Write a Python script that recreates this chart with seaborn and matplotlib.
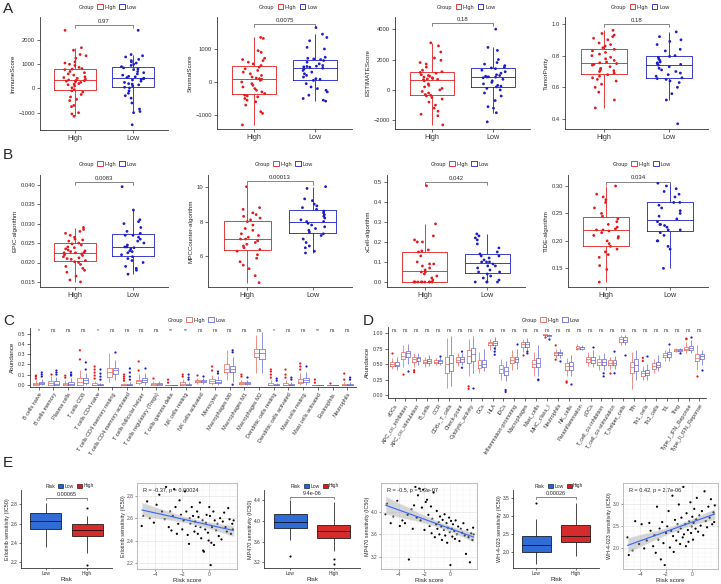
import numpy as np
import pandas as pd
import matplotlib
matplotlib.use("Agg")
import matplotlib.pyplot as plt
from matplotlib.patches import Patch
from matplotlib.collections import PolyCollection
import seaborn as sns

# === DATA ===
immune_high = [2400, 1680, 1580, 1400, 1350, 1250, 1100, 1050, 1000, 950, 870, 820, 800, 780, 700,
               650, 600, 550, 480, 450, 420, 380, 350, 330, 320, 300, 280, 250, 200, 180, 150, 100,
               30, -50, -100, -150, -250, -350, -450, -500, -700, -750, -1000, -1050, -1150]
immune_low = [2400, 1400, 1350, 1300, 1200, 1150, 1100, 1050, 1000, 950, 900, 850, 800, 780, 700,
              650, 600, 550, 500, 480, 450, 420, 400, 380, 350, 300, 250, 200, 180, 150, 100, 50,
              20, -100, -200, -300, -400, -600, -850, -950, -1000, -1500]
stromal_high = [1350, 1320, 950, 900, 720, 680, 650, 600, 550, 500, 450, 400, 350, 300, 250, 200,
                150, 120, 100, 80, 50, 0, -50, -100, -150, -200, -250, -300, -350, -400, -420,
                -450, -500, -550, -600, -700, -900, -950, -1300]
stromal_low = [1650, 1450, 1350, 1250, 1050, 1000, 750, 720, 700, 680, 650, 600, 550, 500, 480,
               470, 460, 450, 420, 400, 350, 300, 250, 200, 150, 100, 80, 50, -50, -150, -200,
               -250, -300, -400, -500, -550, -580]
estimate_high = [3100, 2900, 2500, 2100, 1950, 1800, 1700, 1500, 1300, 1200, 1150, 1100, 1000, 950,
                 900, 850, 800, 750, 720, 700, 680, 600, 400, 300, 200, 100, 0, -100, -200, -300,
                 -350, -400, -500, -600, -800, -1000, -1200, -1400, -1600, -1700, -2300]
estimate_low = [4000, 2800, 2600, 2000, 1800, 1700, 1600, 1500, 1450, 1400, 1300, 1200, 1100, 1000,
                950, 900, 860, 850, 840, 800, 700, 600, 500, 400, 300, 250, 200, 100, 0, -200,
                -400, -700, -1100, -1200, -1500, -2100]
purity_high = [0.96, 0.94, 0.93, 0.92, 0.91, 0.90, 0.88, 0.87, 0.86, 0.85, 0.84, 0.83, 0.82, 0.81,
               0.80, 0.79, 0.78, 0.77, 0.76, 0.755, 0.75, 0.745, 0.74, 0.73, 0.72, 0.71, 0.705,
               0.70, 0.69, 0.68, 0.67, 0.66, 0.65, 0.64, 0.62, 0.60, 0.57, 0.52, 0.47]
purity_low = [0.95, 0.92, 0.90, 0.89, 0.87, 0.84, 0.83, 0.80, 0.795, 0.79, 0.78, 0.77, 0.76, 0.755,
              0.75, 0.745, 0.74, 0.73, 0.72, 0.71, 0.70, 0.69, 0.68, 0.67, 0.66, 0.655, 0.65,
              0.64, 0.63, 0.60, 0.56, 0.52, 0.37]
epic_high = [0.029, 0.0285, 0.028, 0.0275, 0.027, 0.0265, 0.026, 0.0258, 0.0255, 0.025, 0.0248,
             0.0245, 0.024, 0.0238, 0.0235, 0.0232, 0.023, 0.0228, 0.0226, 0.0225, 0.0225, 0.0222,
             0.022, 0.0218, 0.0215, 0.0212, 0.021, 0.0208, 0.0205, 0.0202, 0.02, 0.0195, 0.019,
             0.0185, 0.018, 0.0175, 0.0165, 0.0155, 0.015]
epic_low = [0.0395, 0.0335, 0.031, 0.0305, 0.03, 0.029, 0.028, 0.0275, 0.027, 0.027, 0.0265, 0.026,
            0.0255, 0.025, 0.0245, 0.024, 0.024, 0.0238, 0.0235, 0.023, 0.0228, 0.0225, 0.022,
            0.0215, 0.021, 0.0205, 0.02, 0.019, 0.0185, 0.018, 0.017]
mcp_high = [10.0, 8.8, 8.7, 8.5, 8.4, 8.3, 8.2, 8.1, 8.0, 7.8, 7.6, 7.5, 7.3, 7.2, 7.1, 7.0, 7.0,
            6.9, 6.8, 6.7, 6.6, 6.5, 6.4, 6.3, 6.1, 5.9, 5.7, 5.5, 5.3, 4.9, 4.5]
mcp_low = [10.0, 9.9, 9.3, 9.2, 9.0, 8.9, 8.8, 8.7, 8.6, 8.5, 8.4, 8.3, 8.2, 8.1, 8.0, 8.0, 7.9,
           7.8, 7.7, 7.6, 7.5, 7.4, 7.3, 7.2, 7.0, 6.8, 6.6, 6.5, 6.3, 6.2]
xcell_high = [0.48, 0.29, 0.23, 0.21, 0.2, 0.2, 0.16, 0.155, 0.15, 0.13, 0.1, 0.09, 0.09, 0.08,
              0.07, 0.06, 0.05, 0.05, 0.04, 0.03, 0.02, 0.01, 0, 0, 0, 0, 0, 0, 0, 0, 0, 0]
xcell_low = [0.24, 0.23, 0.22, 0.21, 0.19, 0.17, 0.15, 0.14, 0.13, 0.13, 0.12, 0.11, 0.1, 0.1, 0.1,
             0.09, 0.08, 0.08, 0.07, 0.06, 0.05, 0.05, 0.04, 0.03, 0.02, 0.01, 0, 0, 0, 0]
tide_high = [0.30, 0.285, 0.28, 0.275, 0.27, 0.26, 0.25, 0.245, 0.24, 0.235, 0.23, 0.225, 0.222,
             0.22, 0.22, 0.218, 0.215, 0.21, 0.208, 0.205, 0.2, 0.195, 0.19, 0.185, 0.18, 0.175,
             0.17, 0.155, 0.148, 0.125]
tide_low = [0.305, 0.30, 0.295, 0.29, 0.285, 0.28, 0.27, 0.27, 0.265, 0.26, 0.255, 0.25, 0.245,
            0.24, 0.235, 0.23, 0.23, 0.228, 0.225, 0.22, 0.22, 0.215, 0.21, 0.2, 0.2, 0.19, 0.185,
            0.15]

# CIBERSORT boxes: [min, q1, median, q3, max] + outliers
c_cells = ["B cells naive", "B cells memory", "Plasma cells", "T cells CD8", "T cells CD4 naive",
           "T cells CD4 memory resting", "T cells CD4 memory activated", "T cells follicular helper",
           "T cells regulatory (Tregs)", "T cells gamma delta", "NK cells resting", "NK cells activated",
           "Monocytes", "Macrophages M0", "Macrophages M1", "Macrophages M2", "Dendritic cells resting",
           "Dendritic cells activated", "Mast cells resting", "Mast cells activated", "Eosinophils",
           "Neutrophils"]
c_sig = ["*", "ns", "ns", "ns", "*", "ns", "ns", "ns", "ns", "**", "**", "ns", "ns", "ns", "ns", "ns",
         "*", "ns", "ns", "**", "ns", "ns"]
c_high = [[0, 0, 0.005, 0.02, 0.05], [0, 0, 0.02, 0.04, 0.09], [0, 0, 0.005, 0.02, 0.05],
          [0, 0, 0.03, 0.07, 0.15], [0, 0, 0, 0.02, 0.04], [0.03, 0.08, 0.13, 0.17, 0.31],
          [0, 0, 0, 0.01, 0.02], [0, 0.015, 0.035, 0.05, 0.11], [0, 0, 0.005, 0.02, 0.04],
          [0, 0, 0, 0, 0], [0, 0, 0.01, 0.03, 0.06], [0.01, 0.03, 0.04, 0.05, 0.07],
          [0, 0.02, 0.04, 0.06, 0.1], [0.05, 0.13, 0.16, 0.2, 0.34], [0, 0.01, 0.02, 0.03, 0.05],
          [0.12, 0.27, 0.31, 0.35, 0.49], [0, 0, 0, 0.02, 0.05], [0, 0, 0, 0.02, 0.05],
          [0, 0.015, 0.03, 0.06, 0.12], [0, 0, 0, 0, 0], [0, 0, 0, 0, 0], [0, 0, 0, 0.01, 0.03]]
c_low = [[0, 0.005, 0.015, 0.03, 0.06], [0, 0, 0.01, 0.04, 0.08], [0, 0, 0.01, 0.03, 0.07],
         [0, 0.02, 0.05, 0.07, 0.12], [0, 0, 0, 0.01, 0.02], [0.05, 0.11, 0.15, 0.17, 0.24],
         [0, 0, 0, 0.01, 0.03], [0, 0.025, 0.045, 0.065, 0.12], [0, 0, 0.005, 0.02, 0.04],
         [0, 0, 0, 0, 0], [0, 0, 0, 0.01, 0.03], [0.01, 0.03, 0.04, 0.05, 0.07],
         [0, 0.015, 0.03, 0.05, 0.09], [0.03, 0.13, 0.16, 0.18, 0.27], [0, 0.01, 0.02, 0.03, 0.05],
         [0.12, 0.25, 0.31, 0.35, 0.52], [0, 0, 0, 0.01, 0.02], [0, 0, 0, 0.01, 0.03],
         [0, 0.03, 0.05, 0.07, 0.13], [0, 0, 0, 0, 0], [0, 0, 0, 0, 0], [0, 0, 0, 0.01, 0.03]]
c_high_out = [[0.06, 0.08, 0.09], [0.11], [0.07, 0.09], [0.25, 0.34], [0.06, 0.09, 0.12, 0.15, 0.18],
              [], [0.04, 0.06, 0.08, 0.1], [0.14, 0.23], [0.07], [0.02, 0.05], [0.08, 0.1], [0.1],
              [0.14, 0.18], [], [0.08, 0.1], [], [0.07, 0.1, 0.13, 0.15], [0.07, 0.1, 0.15],
              [0.15, 0.18, 0.21], [0.02, 0.05], [0.02], [0.05, 0.11]]
c_low_out = [[0.08, 0.1, 0.12], [0.1, 0.12, 0.14], [0.09, 0.1, 0.12], [0.15, 0.22],
             [0.05, 0.08, 0.11, 0.15], [0.32], [0.05, 0.08, 0.12, 0.16], [0.17], [], [],
             [0.05, 0.07, 0.1], [0.09], [0.11, 0.13], [0.0, 0.32, 0.34], [0.08], [], [0.04, 0.06],
             [0.05, 0.07], [0.18], [], [], [0.05, 0.07]]

# ssGSEA boxes
d_sets = ["aDCs", "APC_co_inhibition", "APC_co_stimulation", "B_cells", "CCR", "CD8+_T_cells",
          "Check-point", "Cytolytic_activity", "DCs", "HLA", "iDCs", "Inflammation-promoting",
          "Macrophages", "Mast_cells", "MHC_class_I", "Neutrophils", "NK_cells", "Parainflammation",
          "pDCs", "T_cell_co-inhibition", "T_cell_co-stimulation", "T_helper_cells", "Tfh",
          "Th1_cells", "Th2_cells", "TIL", "Treg", "Type_I_IFN_Reponse", "Type_II_IFN_Reponse"]
d_sig = ["ns"] * 29
d_high = [[0.42, 0.47, 0.50, 0.53, 0.60], [0.45, 0.58, 0.63, 0.70, 0.80], [0.45, 0.54, 0.58, 0.62, 0.68],
          [0.45, 0.51, 0.54, 0.57, 0.62], [0.48, 0.52, 0.54, 0.56, 0.60], [0.12, 0.35, 0.50, 0.62, 0.92],
          [0.47, 0.53, 0.57, 0.61, 0.67], [0.30, 0.52, 0.63, 0.72, 0.90], [0.35, 0.44, 0.49, 0.56, 0.70],
          [0.72, 0.80, 0.84, 0.86, 0.90], [0.25, 0.35, 0.42, 0.49, 0.58], [0.40, 0.52, 0.57, 0.62, 0.73],
          [0.70, 0.78, 0.82, 0.85, 0.90], [0.30, 0.45, 0.50, 0.57, 0.70], [0.94, 0.96, 0.97, 0.98, 0.99],
          [0.60, 0.65, 0.67, 0.70, 0.75], [0.30, 0.40, 0.47, 0.52, 0.60], [0.72, 0.74, 0.76, 0.79, 0.83],
          [0.47, 0.53, 0.58, 0.62, 0.70], [0.40, 0.48, 0.53, 0.58, 0.65], [0.42, 0.48, 0.52, 0.56, 0.62],
          [0.80, 0.86, 0.90, 0.93, 0.97], [0.10, 0.35, 0.45, 0.53, 0.70], [0.25, 0.31, 0.35, 0.39, 0.47],
          [0.35, 0.42, 0.47, 0.52, 0.58], [0.55, 0.61, 0.65, 0.68, 0.73], [0.69, 0.71, 0.73, 0.74, 0.76],
          [0.68, 0.72, 0.75, 0.78, 0.85], [0.40, 0.55, 0.60, 0.66, 0.80]]
d_low = [[0.40, 0.46, 0.49, 0.53, 0.62], [0.50, 0.62, 0.67, 0.71, 0.82], [0.48, 0.55, 0.59, 0.62, 0.68],
         [0.46, 0.52, 0.55, 0.58, 0.65], [0.48, 0.52, 0.55, 0.57, 0.61], [0.15, 0.38, 0.52, 0.65, 0.95],
         [0.48, 0.54, 0.58, 0.62, 0.67], [0.35, 0.55, 0.66, 0.76, 0.95], [0.38, 0.45, 0.50, 0.56, 0.75],
         [0.72, 0.80, 0.84, 0.87, 0.93], [0.22, 0.32, 0.38, 0.45, 0.55], [0.42, 0.53, 0.58, 0.62, 0.75],
         [0.72, 0.78, 0.82, 0.85, 0.92], [0.30, 0.45, 0.52, 0.60, 0.80], [0.93, 0.95, 0.96, 0.97, 0.99],
         [0.60, 0.64, 0.67, 0.70, 0.74], [0.30, 0.40, 0.47, 0.53, 0.65], [0.72, 0.75, 0.77, 0.78, 0.81],
         [0.45, 0.52, 0.57, 0.62, 0.72], [0.40, 0.48, 0.53, 0.58, 0.68], [0.42, 0.49, 0.52, 0.56, 0.63],
         [0.80, 0.86, 0.89, 0.93, 0.97], [0.25, 0.38, 0.48, 0.58, 0.72], [0.25, 0.32, 0.36, 0.40, 0.50],
         [0.38, 0.45, 0.49, 0.53, 0.65], [0.55, 0.62, 0.66, 0.69, 0.76], [0.68, 0.71, 0.73, 0.75, 0.76],
         [0.68, 0.73, 0.76, 0.79, 0.88], [0.48, 0.58, 0.63, 0.66, 0.73]]
d_high_out = [[0.68], [0.34], [0.37, 0.40], [], [], [], [], [0.10, 0.14], [], [], [], [], [0.65], [],
              [0.93], [0.80, 0.57], [0.22, 0.20], [], [], [], [0.35], [], [], [0.55, 0.60], [], [], [],
              [0.90, 0.91], [0.30]]
d_low_out = [[], [0.38], [], [], [0.63], [], [0.70, 0.44], [0.12], [], [0.65, 0.70, 0.75], [0.08, 0.05],
             [0.82], [0.67, 0.70], [0.25, 0.24], [0.90], [0.55], [0.17], [], [0.77], [0.35, 0.30],
             [0.70, 0.35], [0.65], [], [0.63], [], [0.82], [0.68], [0.94], [0.40]]

# Drug sensitivity (E)
erl_low = [2.36, 2.55, 2.63, 2.71, 2.81]
erl_high = [2.30, 2.47, 2.53, 2.60, 2.68]
erl_high_out = [2.76, 2.17]
mp_low = [3.64, 3.87, 3.99, 4.13, 4.40]
mp_high = [3.41, 3.68, 3.81, 3.92, 4.36]
mp_low_out = [3.32]
mp_high_out = [3.27, 3.17]
wh_low = [1.67, 2.00, 2.20, 2.44, 2.92]
wh_high = [1.87, 2.28, 2.44, 2.76, 3.36]
wh_low_out = [3.36]

risk_score = [-5.0, -4.9, -4.6, -4.4, -4.1, -3.9, -3.7, -3.5, -3.3, -3.2,
              -3.0, -2.9, -2.8, -2.7, -2.6, -2.5, -2.4, -2.3, -2.2, -2.1,
              -2.0, -1.9, -1.8, -1.7, -1.6, -1.5, -1.45, -1.4, -1.3, -1.2,
              -1.1, -1.05, -1.0, -0.9, -0.85, -0.8, -0.7, -0.65, -0.6, -0.5,
              -0.45, -0.4, -0.3, -0.25, -0.2, -0.1, -0.05, 0.0, 0.05, 0.1,
              0.15, 0.2, 0.3, 0.35, 0.4, 0.5, 0.6, 0.7, 0.8, 0.9,
              1.0, 1.1, 1.2, 1.3, 1.4, 1.5, 1.6, 1.7, 1.75, 1.8]
erl_ic50 = [2.53, 2.62, 2.75, 2.60, 2.56, 2.72, 2.81, 2.66, 2.59, 2.88,
            2.52, 2.66, 2.49, 2.62, 2.86, 2.70, 2.46, 2.55, 2.76, 2.63,
            2.50, 2.58, 2.84, 2.66, 2.45, 2.37, 2.60, 2.55, 2.70, 2.62,
            2.48, 2.57, 2.53, 2.66, 2.46, 2.61, 2.74, 2.52, 2.42, 2.58,
            2.31, 2.30, 2.50, 2.56, 2.63, 2.47, 2.40, 2.70, 2.62, 2.18,
            2.38, 2.52, 2.66, 2.36, 2.58, 2.49, 2.55, 2.44, 2.60, 2.41,
            2.57, 2.65, 2.52, 2.48, 2.69, 2.59, 2.46, 2.55, 2.50, 2.58]
mp_ic50 = [3.96, 4.15, 3.80, 3.92, 4.20, 3.75, 3.85, 3.80, 3.95, 3.15,
           4.05, 3.70, 4.12, 4.45, 3.90, 4.30, 4.42, 3.85, 4.08, 4.40,
           3.68, 4.18, 4.22, 3.95, 3.75, 4.10, 3.62, 3.88, 4.35, 3.55,
           3.78, 4.02, 3.70, 3.82, 3.60, 3.92, 3.74, 3.50, 3.86, 3.68,
           3.96, 3.58, 3.80, 3.45, 3.72, 3.90, 3.64, 3.05, 3.84, 3.70,
           3.56, 3.78, 3.66, 3.52, 3.85, 3.60, 3.74, 3.48, 3.70, 3.63,
           3.80, 3.58, 3.25, 3.68, 3.55, 3.10, 3.62, 3.50, 3.72, 3.60]
wh_ic50 = [2.25, 1.85, 1.95, 2.62, 2.10, 2.55, 2.00, 2.18, 2.58, 2.40,
           2.05, 2.30, 1.90, 2.95, 2.20, 2.45, 1.75, 2.60, 2.12, 1.62,
           2.35, 2.50, 2.85, 2.02, 2.40, 3.20, 2.28, 1.92, 2.65, 2.18,
           2.55, 2.38, 3.00, 2.10, 2.45, 2.70, 2.25, 3.40, 2.32, 2.55,
           2.05, 2.80, 2.42, 2.15, 2.62, 3.05, 2.35, 2.50, 2.72, 2.20,
           2.58, 2.90, 2.45, 2.66, 3.15, 2.38, 2.75, 2.52, 2.85, 2.30,
           3.30, 2.62, 2.48, 2.95, 2.70, 3.12, 2.55, 2.82, 2.60, 2.98]

# === STYLE ===
W, H = 721, 584
RED, BLUE = "#E41A1C", "#1C1CC8"
GROUP_PAL = {"High": RED, "Low": BLUE}
LIGHT_PAL = {"High": "#E8645A", "Low": "#6464D8"}
RISK_PAL = {"Low": "#1565F0", "High": "#F01010"}

sns.set_style("ticks")
plt.rcParams["font.family"] = ["Liberation Sans", "DejaVu Sans"]
np.random.seed(7)

fig = plt.figure(figsize=(W / 100, H / 100), dpi=100)


def px_axes(l, t, r, b):
    return fig.add_axes([l / W, 1 - b / H, (r - l) / W, (b - t) / H])


def classic(ax, labelsize=4.2, length=2, pad=1.5):
    sns.despine(ax=ax)
    for s in ["left", "bottom"]:
        ax.spines[s].set_linewidth(0.6)
        ax.spines[s].set_color("#333333")
    ax.tick_params(length=length, width=0.5, labelsize=labelsize, pad=pad, colors="#333333")


def legend_row(ax, title, labels, colors, y, filled=False, fs=4):
    handles = [Patch(visible=False)]
    for c in colors:
        if filled:
            handles.append(Patch(facecolor=c, edgecolor="black", lw=0.4))
        else:
            handles.append(Patch(facecolor="white", edgecolor=c, lw=0.6))
    ax.legend(handles, [title] + labels, ncol=3, loc="center", bbox_to_anchor=(0.5, y),
              frameon=False, fontsize=fs, handlelength=1.0, handleheight=0.9,
              handletextpad=0.3, columnspacing=0.6, borderaxespad=0, borderpad=0)


def bracket(ax, x0, x1, yb, span, text, fs=4.3):
    tip = 0.03 * span
    ax.plot([x0, x0, x1, x1], [yb - tip, yb, yb, yb - tip], color="#555555", lw=0.5)
    ax.text((x0 + x1) / 2, yb + 0.01 * span, text, ha="center", va="bottom", fontsize=fs)


def group_panel(box, high, low, ylabel, pval, ylim, yticks, yb, leg_y):
    ax = px_axes(*box)
    df = pd.DataFrame({"Group": ["High"] * len(high) + ["Low"] * len(low), "value": high + low})
    sns.boxplot(data=df, x="Group", y="value", hue="Group", palette=GROUP_PAL, fill=False,
                width=0.72, showfliers=False, linewidth=0.6, ax=ax, legend=False,
                capprops={"visible": False})
    sns.stripplot(data=df, x="Group", y="value", hue="Group", palette=GROUP_PAL, jitter=0.2,
                  size=2.0, ax=ax, legend=False)
    ax.set_xlim(-0.6, 1.6)
    ax.set_ylim(*ylim)
    ax.set_yticks(yticks)
    ax.set_xlabel("")
    ax.set_ylabel(ylabel, fontsize=4.5, labelpad=2)
    classic(ax)
    ax.tick_params(axis="x", labelsize=5.2)
    bracket(ax, 0, 1, yb, ylim[1] - ylim[0], pval)
    legend_row(ax, "Group", ["High", "Low"], [RED, BLUE], leg_y)
    return ax


def immune_panel(box, names, high, low, high_out, low_out, sig, ylim, yticks, ysig, leg_y):
    ax = px_axes(*box)
    rows = []
    for name, h, l in zip(names, high, low):
        rows += [(name, "High", v) for v in h] + [(name, "Low", v) for v in l]
    df = pd.DataFrame(rows, columns=["cell", "Group", "value"])
    out_rows = []
    for name, h, l in zip(names, high_out, low_out):
        out_rows += [(name, "High", v) for v in h] + [(name, "Low", v) for v in l]
    out = pd.DataFrame(out_rows, columns=["cell", "Group", "value"])
    sns.boxplot(data=df, x="cell", y="value", hue="Group", order=names, hue_order=["High", "Low"],
                palette=LIGHT_PAL, fill=False, whis=(0, 100), showfliers=False, width=0.8,
                gap=0.1, linewidth=0.5, ax=ax, legend=False, capprops={"visible": False})
    sns.stripplot(data=out, x="cell", y="value", hue="Group", order=names,
                  hue_order=["High", "Low"], palette=GROUP_PAL, dodge=True, jitter=False,
                  size=1.6, ax=ax, legend=False)
    for i, s in enumerate(sig):
        ax.text(i, ysig, s, ha="center", va="center", fontsize=3.6, color="#333333")
    ax.set_xlim(-0.6, len(names) - 0.4)
    ax.set_ylim(*ylim)
    ax.set_yticks(yticks)
    ax.set_xlabel("")
    ax.set_ylabel("Abundance", fontsize=4.5, labelpad=2)
    classic(ax, labelsize=3.8)
    ax.set_xticks(range(len(names)))
    ax.set_xticklabels(names, rotation=58, ha="right", rotation_mode="anchor", fontsize=4.0)
    legend_row(ax, "Group", ["High", "Low"], [LIGHT_PAL["High"], LIGHT_PAL["Low"]], leg_y)
    return ax


def risk_box(box, low, high, low_out, high_out, ylabel, pval, ylim, yticks, yb):
    ax = px_axes(*box)
    df = pd.DataFrame({"Risk": ["Low"] * len(low) + ["High"] * len(high), "value": low + high})
    sns.boxplot(data=df, x="Risk", y="value", hue="Risk", order=["Low", "High"], palette=RISK_PAL,
                whis=(0, 100), showfliers=False, width=0.75, linecolor="black", linewidth=0.5,
                ax=ax, legend=False, capprops={"visible": False})
    out = pd.DataFrame({"Risk": ["Low"] * len(low_out) + ["High"] * len(high_out),
                        "value": low_out + high_out})
    sns.stripplot(data=out, x="Risk", y="value", order=["Low", "High"], color="black",
                  jitter=False, size=1.5, ax=ax)
    ax.set_xlim(-0.6, 1.6)
    ax.set_ylim(*ylim)
    ax.set_yticks(yticks)
    ax.set_xlabel("Risk", fontsize=4.4, labelpad=0.5)
    ax.set_ylabel(ylabel, fontsize=3.9, labelpad=1)
    classic(ax, labelsize=3.5, length=1.5, pad=0.8)
    bracket(ax, 0, 1, yb, ylim[1] - ylim[0], pval, fs=4.0)
    h = box[3] - box[1]
    legend_row(ax, "Risk", ["Low", "High"], [RISK_PAL["Low"], RISK_PAL["High"]],
               1 + 4 / h, filled=True, fs=3.6)
    return ax


def risk_scatter(box, y, ylabel, label, yticks):
    ax = px_axes(*box)
    sns.scatterplot(x=risk_score, y=y, color="black", s=2.5, edgecolor="none", ax=ax)
    sns.regplot(x=risk_score, y=y, scatter=False, ci=95, seed=1, color="#3366FF",
                line_kws={"lw": 0.8}, ax=ax)
    for coll in ax.collections:
        if isinstance(coll, PolyCollection):
            coll.set_facecolor("#999999")
            coll.set_alpha(0.4)
    ax.set_xlim(-5.35, 2.05)
    ax.set_xticks([-4, -2, 0])
    ax.set_yticks(yticks)
    ax.minorticks_on()
    ax.grid(True, which="major", color="#E6E6E6", lw=0.5)
    ax.grid(True, which="minor", color="#F2F2F2", lw=0.3)
    ax.set_axisbelow(True)
    ax.tick_params(which="minor", length=0)
    ax.tick_params(length=1.5, width=0.4, labelsize=3.5, pad=0.8, colors="#4D4D4D")
    for s in ax.spines.values():
        s.set_color("#B3B3B3")
        s.set_linewidth(0.6)
    ax.set_xlabel("Risk score", fontsize=4.4, labelpad=0.5)
    ax.set_ylabel(ylabel, fontsize=3.9, labelpad=1)
    ax.text(0.06, 0.94, label, transform=ax.transAxes, ha="left", va="top", fontsize=4.0)
    return ax


# === PANEL A ===
group_panel((40, 17, 168, 130), immune_high, immune_low, "ImmuneScore", "0.97",
            (-1715, 2950), [-1000, 0, 1000, 2000], 2620, 1 + 10 / 113)
group_panel((217, 17, 352, 129), stromal_high, stromal_low, "StromalScore", "0.0075",
            (-1424, 1970), [-1000, 0, 1000], 1760, 1 + 10 / 112)
group_panel((395, 17, 530, 129), estimate_high, estimate_low, "ESTIMATEScore", "0.18",
            (-2570, 4800), [-2000, 0, 2000, 4000], 4400, 1 + 10 / 112)
group_panel((565, 17, 708, 129), purity_high, purity_low, "TumorPurity", "0.18",
            (0.337, 1.044), [0.4, 0.6, 0.8, 1.0], 1.0, 1 + 10 / 112)

# === PANEL B ===
group_panel((40, 175, 168, 287), epic_high, epic_low, "EPIC-algorithm", "0.0083",
            (0.0137, 0.0425), [0.015, 0.020, 0.025, 0.030, 0.035, 0.040], 0.0407, 1 + 11 / 112)
group_panel((208, 175, 352, 287), mcp_high, mcp_low, "MPCCounter-algorithm", "0.00013",
            (4.25, 10.67), [6, 8, 10], 10.3, 1 + 11 / 112)
group_panel((387, 175, 525, 287), xcell_high, xcell_low, "xCell-algorithm", "0.042",
            (-0.025, 0.534), [0.0, 0.1, 0.2, 0.3, 0.4, 0.5], 0.5, 1 + 11 / 112)
group_panel((568, 175, 708, 287), tide_high, tide_low, "TIDE-algorithm", "0.034",
            (0.116, 0.32), [0.15, 0.20, 0.25, 0.30], 0.308, 1 + 11 / 112)

# === PANELS C, D ===
immune_panel((30, 328, 356, 387), c_cells, c_high, c_low, c_high_out, c_low_out, c_sig,
             (-0.023, 0.561), [0.0, 0.1, 0.2, 0.3, 0.4, 0.5], 0.535, 1 + 8 / 59)
ax_d = immune_panel((388, 327, 706, 398), d_sets, d_high, d_low, d_high_out, d_low_out, d_sig,
                    (-0.048, 1.097), [0.0, 0.25, 0.5, 0.75, 1.0], 1.035, 1 + 7 / 71)
ax_d.set_yticklabels(["0.00", "0.25", "0.50", "0.75", "1.00"])

# === PANEL E ===
risk_box((21, 490, 112, 568), erl_low, erl_high, [], erl_high_out,
         "Erlotinib sensitivity (IC50)", "0.00065", (2.14, 2.95), [2.2, 2.4, 2.6, 2.8], 2.87)
risk_scatter((137, 483, 237, 569), erl_ic50, "Erlotinib sensitivity (IC50)",
             "R = -0.37, p = 0.00024", [2.2, 2.4, 2.6, 2.8])
risk_box((264, 490, 360, 568), mp_low, mp_high, mp_low_out, mp_high_out,
         "MP470 sensitivity (IC50)", "9.4e-06", (3.09, 4.6), [3.2, 3.6, 4.0, 4.4], 4.47)
risk_scatter((381, 483, 477, 569), mp_ic50, "MP470 sensitivity (IC50)",
             "R = -0.5, p = 1.3e-07", [3.2, 3.6, 4.0])
risk_box((513, 490, 599, 568), wh_low, wh_high, wh_low_out, [],
         "WH-4-023 sensitivity (IC50)", "0.00026", (1.55, 3.72), [2.0, 2.5, 3.0, 3.5], 3.53)
risk_scatter((623, 483, 718, 569), wh_ic50, "WH-4-023 sensitivity (IC50)",
             "R = 0.42, p = 2.7e-06", [2.0, 2.5, 3.0])

# === PANEL LETTERS ===
for letter, x, y in [("A", 3, 9), ("B", 3, 155), ("C", 3, 321), ("D", 363, 321), ("E", 3, 463)]:
    fig.text(x / W, 1 - y / H, letter, fontsize=11, ha="left", va="center")

fig.savefig("out.png", dpi=100)
